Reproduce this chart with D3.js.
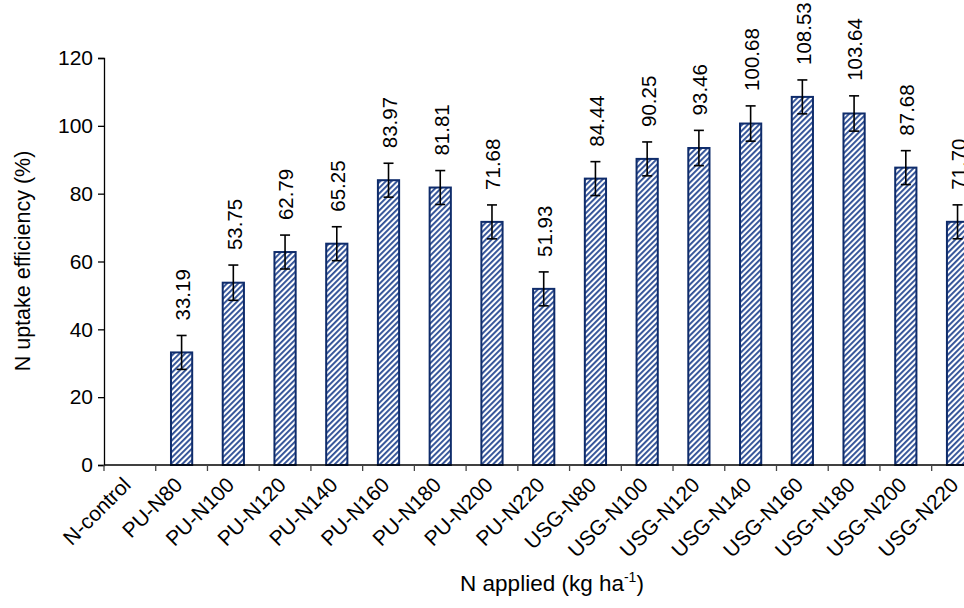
<!DOCTYPE html>
<html>
<head>
<meta charset="utf-8">
<script src="https://cdn.jsdelivr.net/npm/d3@7"></script>
<style>
  html, body { margin: 0; padding: 0; background: #fff; }
  svg { display: block; font-family: "Liberation Sans", Arial, sans-serif; }
</style>
</head>
<body>
<svg id="chart" width="964" height="608"></svg>
<script>
// Treatments on the x axis
const categories = [
  "N-control", "PU-N80", "PU-N100", "PU-N120", "PU-N140", "PU-N160", "PU-N180", "PU-N200", "PU-N220",
  "USG-N80", "USG-N100", "USG-N120", "USG-N140", "USG-N160", "USG-N180", "USG-N200", "USG-N220"
];
// N uptake efficiency (%) per treatment; the control has no bar
const values = [
  null, 33.19, 53.75, 62.79, 65.25, 83.97, 81.81, 71.68, 51.93,
  84.44, 90.25, 93.46, 100.68, 108.53, 103.64, 87.68, 71.70
];
// Half-length of each error bar, in the same units
const errors = [
  null, 5, 5.2, 5, 5, 5, 5, 5, 5,
  5, 5, 5.2, 5.2, 5, 5.2, 5, 5
];
// Value labels printed above the bars
const valueLabels = [
  "", "33.19", "53.75", "62.79", "65.25", "83.97", "81.81", "71.68", "51.93",
  "84.44", "90.25", "93.46", "100.68", "108.53", "103.64", "87.68", "71.70"
];
const yTicks = [0, 20, 40, 60, 80, 100, 120];

const svg = d3.select("#chart");
const FONT = 21;

const plotLeft = 104, plotBottom = 465, plotTop = 58;
const step = 51.73;

const x = d3.scaleBand()
  .domain(categories)
  .range([plotLeft, plotLeft + step * categories.length])
  .paddingInner(0.59)
  .paddingOuter(0.295);

const y = d3.scaleLinear().domain([0, 120]).range([plotBottom, plotTop]);

// Diagonal hatch fill for the bars
const defs = svg.append("defs");
const pat = defs.append("pattern")
  .attr("id", "hatch")
  .attr("patternUnits", "userSpaceOnUse")
  .attr("width", 4).attr("height", 4)
  .attr("patternTransform", "rotate(45)");
pat.append("rect").attr("width", 4).attr("height", 4).attr("fill", "#ffffff");
pat.append("rect").attr("x", 0).attr("width", 1.9).attr("height", 4).attr("fill", "#2f5096");

const data = categories.map((c, i) => ({ c, v: values[i], e: errors[i], lab: valueLabels[i] }))
  .filter(d => d.v != null);

// Bars
svg.append("g").selectAll("rect")
  .data(data).join("rect")
  .attr("x", d => x(d.c))
  .attr("y", d => y(d.v))
  .attr("width", x.bandwidth())
  .attr("height", d => y(0) - y(d.v))
  .attr("fill", "url(#hatch)")
  .attr("stroke", "#0f2c6b")
  .attr("stroke-width", 2);

// Error bars
const eb = svg.append("g").attr("stroke", "#000").attr("stroke-width", 1.6);
data.forEach(d => {
  const cx = x(d.c) + x.bandwidth() / 2;
  const y1 = y(d.v + d.e), y2 = y(d.v - d.e);
  eb.append("line").attr("x1", cx).attr("x2", cx).attr("y1", y1).attr("y2", y2);
  eb.append("line").attr("x1", cx - 5).attr("x2", cx + 5).attr("y1", y1).attr("y2", y1);
  eb.append("line").attr("x1", cx - 5).attr("x2", cx + 5).attr("y1", y2).attr("y2", y2);
});

// Value labels, rotated to read upward
svg.append("g").selectAll("text")
  .data(data).join("text")
  .attr("transform", d => `translate(${x(d.c) + x.bandwidth() / 2 + 1},${y(d.v + d.e) - 15}) rotate(-90)`)
  .attr("dy", "0.36em")
  .attr("text-anchor", "start")
  .attr("font-size", 20.5)
  .attr("fill", "#000")
  .text(d => d.lab);

// Y axis
const yAxis = svg.append("g")
  .attr("transform", `translate(${plotLeft},0)`)
  .call(d3.axisLeft(y).tickValues(yTicks).tickSize(6).tickPadding(5));
yAxis.select(".domain").attr("stroke", "#000").attr("stroke-width", 1.3);
yAxis.selectAll(".tick line").attr("stroke", "#000").attr("stroke-width", 1.3);
yAxis.selectAll(".tick text").attr("font-size", FONT).attr("font-family", "Liberation Sans, Arial, sans-serif").attr("fill", "#000");

// X axis: line with ticks at category boundaries
const xg = svg.append("g").attr("transform", `translate(0,${plotBottom})`);
xg.append("line")
  .attr("x1", plotLeft).attr("x2", x.range()[1])
  .attr("stroke", "#000").attr("stroke-width", 1.3);
const bounds = d3.range(categories.length + 1).map(i => x.range()[0] + i * x.step());
xg.selectAll("line.tk").data(bounds).join("line")
  .attr("class", "tk")
  .attr("x1", d => d).attr("x2", d => d)
  .attr("y1", 0).attr("y2", 6)
  .attr("stroke", "#444").attr("stroke-width", 1.3);

// Category labels, slanted
xg.selectAll("text").data(categories).join("text")
  .attr("transform", c => `translate(${x(c) + x.bandwidth() / 2 - 3},${16}) rotate(-45)`)
  .attr("text-anchor", "end")
  .attr("dy", "0.35em")
  .attr("font-size", FONT)
  .attr("fill", "#000")
  .text(c => c);

// Axis titles
svg.append("text")
  .attr("transform", "translate(30,261) rotate(-90)")
  .attr("text-anchor", "middle")
  .attr("font-size", 21.5)
  .attr("fill", "#000")
  .text("N uptake efficiency (%)");

const xt = svg.append("text")
  .attr("x", 552).attr("y", 591)
  .attr("text-anchor", "middle")
  .attr("font-size", 22.5)
  .attr("fill", "#000");
xt.append("tspan").text("N applied (kg ha");
xt.append("tspan").attr("font-size", 14).attr("dy", -9).text("-1");
xt.append("tspan").attr("dy", 9).text(")");
</script>
</body>
</html>
